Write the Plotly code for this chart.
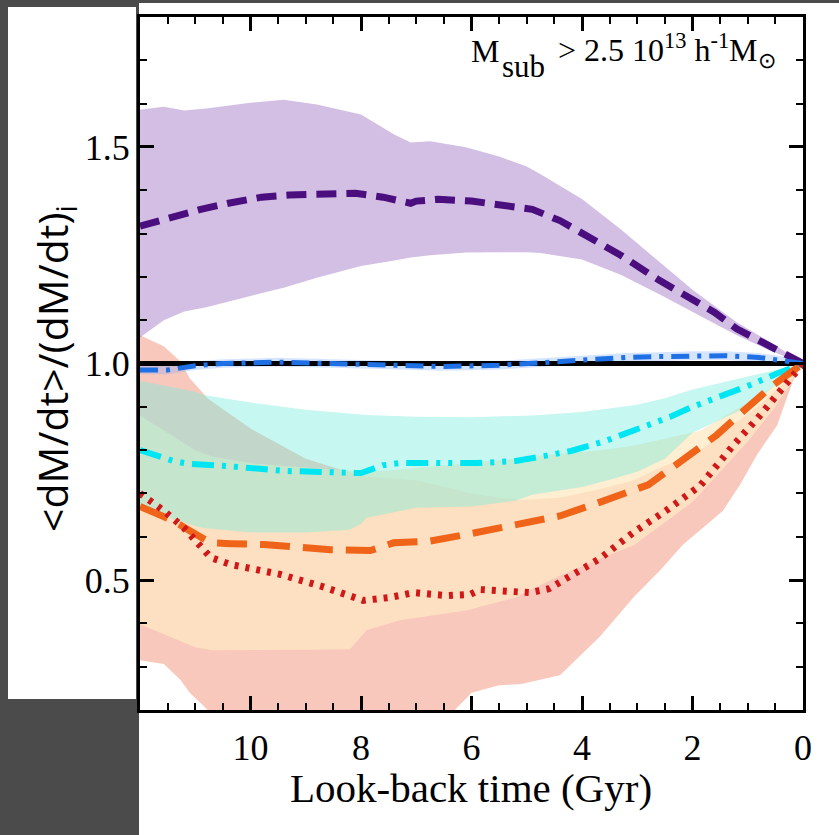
import plotly.graph_objects as go

# ---------------- data ----------------
x_ticks = [10, 8, 6, 4, 2, 0]
y_ticks = [0.5, 1.0, 1.5]
y_ticktext = ["0.5", "1.0", "1.5"]

ref_x = [12, 0]
ref_y = [1.0, 1.0]

purple_x = [12, 11.4, 10.9, 10.4, 9.8, 9.3, 8.7, 8.1, 7.6, 7.1, 7.0, 6.6, 6.0, 5.5, 4.9, 4.4, 4.0, 3.3, 2.6, 2.0, 1.6, 1.2, 0.6, 0]
purple_y = [1.317, 1.340, 1.356, 1.370, 1.384, 1.389, 1.393, 1.393, 1.384, 1.370, 1.375, 1.379, 1.375, 1.368, 1.356, 1.330, 1.300, 1.250, 1.192, 1.145, 1.118, 1.080, 1.040, 1.0]
purple_band_x = [12, 11.57, 11.2, 10.8, 10.0, 9.4, 8.8, 8.0, 7.4, 7.1, 6.75, 6.1, 5.5, 5.0, 4.75, 4.0, 3.3, 2.6, 2.0, 1.2, 0.6, 0]
purple_upper = [1.586, 1.593, 1.584, 1.589, 1.602, 1.609, 1.598, 1.575, 1.529, 1.510, 1.513, 1.499, 1.478, 1.455, 1.437, 1.380, 1.310, 1.235, 1.170, 1.095, 1.050, 1.0]
purple_lower = [1.060, 1.100, 1.120, 1.130, 1.156, 1.175, 1.198, 1.225, 1.238, 1.245, 1.250, 1.256, 1.257, 1.257, 1.255, 1.240, 1.205, 1.160, 1.120, 1.065, 1.030, 1.0]

blue_x = [12, 11.5, 11.0, 10.5, 9.5, 8.5, 7.5, 6.5, 5.5, 4.5, 3.9, 3.2, 2.6, 2.0, 1.4, 0.8, 0.3, 0]
blue_y = [0.985, 0.985, 0.995, 1.000, 1.003, 1.000, 0.997, 0.993, 0.996, 1.004, 1.009, 1.014, 1.016, 1.018, 1.018, 1.014, 1.007, 1.0]
blue_upper = [0.995, 0.995, 1.005, 1.010, 1.013, 1.010, 1.007, 1.003, 1.006, 1.014, 1.019, 1.024, 1.026, 1.028, 1.028, 1.024, 1.015, 1.0]
blue_lower = [0.975, 0.975, 0.985, 0.990, 0.993, 0.990, 0.987, 0.983, 0.986, 0.994, 0.999, 1.004, 1.006, 1.008, 1.008, 1.004, 0.999, 1.0]

cyan_x = [12, 11.4, 11.1, 10.4, 9.4, 8.7, 8.0, 7.6, 7.3, 5.9, 5.2, 4.7, 4.2, 3.6, 3.0, 2.4, 2.0, 1.56, 0.96, 0.47, 0]
cyan_y = [0.800, 0.775, 0.768, 0.763, 0.752, 0.749, 0.747, 0.765, 0.770, 0.770, 0.775, 0.786, 0.798, 0.820, 0.848, 0.877, 0.900, 0.920, 0.950, 0.977, 1.0]
cyan_band_x = [12, 11, 10.85, 10, 9, 8.2, 8, 7.9, 7, 6, 5.2, 4.9, 4, 3.4, 3, 2.5, 2, 1, 0]
cyan_upper = [0.960, 0.935, 0.927, 0.910, 0.893, 0.884, 0.882, 0.881, 0.877, 0.876, 0.879, 0.880, 0.888, 0.898, 0.905, 0.920, 0.940, 0.970, 1.0]
cyan_lower = [0.667, 0.625, 0.620, 0.610, 0.610, 0.616, 0.630, 0.644, 0.667, 0.670, 0.683, 0.697, 0.715, 0.735, 0.750, 0.780, 0.840, 0.900, 1.0]

orange_x = [12, 11.8, 11.4, 11.1, 10.72, 10.36, 9.76, 8.55, 7.83, 7.41, 6.75, 6.1, 5.3, 4.4, 3.67, 2.8, 2.17, 1.56, 1.08, 0.54, 0]
orange_y = [0.670, 0.660, 0.637, 0.614, 0.586, 0.584, 0.582, 0.570, 0.568, 0.586, 0.590, 0.605, 0.627, 0.648, 0.680, 0.720, 0.778, 0.835, 0.890, 0.950, 1.0]
orange_band_x = [12, 11, 10.7, 10, 9, 8.2, 7.9, 7.3, 6.1, 5.2, 4.57, 3.67, 3.07, 2, 1.86, 1, 0.5, 0]
orange_upper = [0.880, 0.800, 0.785, 0.770, 0.760, 0.752, 0.750, 0.755, 0.770, 0.780, 0.790, 0.800, 0.810, 0.840, 0.845, 0.910, 0.950, 1.0]
orange_lower = [0.398, 0.345, 0.338, 0.338, 0.339, 0.340, 0.384, 0.407, 0.430, 0.460, 0.500, 0.550, 0.580, 0.680, 0.700, 0.820, 0.900, 1.0]

red_x = [12, 11.57, 11.2, 10.72, 10.36, 9.46, 8.7, 7.96, 7.47, 7.05, 6.44, 6.02, 5.84, 5.53, 4.94, 4.6, 4.2, 3.67, 3.07, 2.46, 1.86, 1.27, 0.78, 0.29, 0]
red_y = [0.700, 0.660, 0.620, 0.552, 0.536, 0.513, 0.485, 0.453, 0.460, 0.471, 0.464, 0.467, 0.478, 0.476, 0.471, 0.480, 0.510, 0.550, 0.610, 0.662, 0.718, 0.810, 0.880, 0.958, 1.0]
red_band_x = [12, 11.57, 11.27, 11.1, 10.85, 10.78, 10, 9, 8, 7, 6.3, 6.0, 5.5, 5.1, 4.4, 3.67, 3.07, 2.59, 2.17, 1.74, 1.45, 1.14, 0.83, 0.47, 0.18, 0]
red_upper = [1.065, 1.040, 1.005, 0.966, 0.930, 0.920, 0.850, 0.780, 0.740, 0.730, 0.710, 0.700, 0.690, 0.685, 0.690, 0.710, 0.730, 0.760, 0.780, 0.810, 0.840, 0.870, 0.900, 0.940, 0.975, 1.0]
red_lower = [0.315, 0.306, 0.270, 0.240, 0.210, 0.200, 0.170, 0.150, 0.150, 0.170, 0.200, 0.240, 0.257, 0.260, 0.280, 0.370, 0.460, 0.522, 0.582, 0.628, 0.660, 0.720, 0.790, 0.857, 0.960, 1.0]

# ---------------- figure ----------------
W, H = 839, 835
ML, MR, MT, MB = 140, 36, 17, 125
PW, PH = W - ML - MR, H - MT - MB


def px(xp):
    return (xp - ML) / PW


def py(yp):
    return (H - MB - yp) / PH


fig = go.Figure()


def add_band(x, up, lo, color):
    fig.add_trace(go.Scatter(
        x=list(x) + list(x)[::-1], y=list(up) + list(lo)[::-1],
        mode="lines", fill="toself", fillcolor=color,
        line=dict(width=0), hoverinfo="skip", showlegend=False))


def add_line(x, y, color, width, dash):
    fig.add_trace(go.Scatter(
        x=x, y=y, mode="lines", line=dict(color=color, width=width, dash=dash),
        hoverinfo="skip", showlegend=False))


add_band(red_band_x, red_upper, red_lower, "rgba(240,110,80,0.38)")
add_band(orange_band_x, orange_upper, orange_lower, "rgba(253,232,195,0.75)")
add_band(cyan_band_x, cyan_upper, cyan_lower, "rgba(120,235,220,0.42)")
add_band(blue_x, blue_upper, blue_lower, "rgba(120,170,255,0.3)")
add_band(purple_band_x, purple_upper, purple_lower, "rgba(150,100,190,0.42)")

add_line(ref_x, ref_y, "black", 5, "solid")
add_line(purple_x, purple_y, "#4a0e7e", 7, "20px,10px")
add_line(blue_x, blue_y, "#1f6fe5", 5, "18px,8px,4px,8px")
add_line(cyan_x, cyan_y, "#00e5f2", 6, "22px,8px,4px,8px,4px,8px")
add_line(orange_x, orange_y, "#f0641a", 7, "30px,13px")
add_line(red_x, red_y, "#d01818", 7, "4px,7px")

axis_common = dict(
    showline=True, linewidth=3, linecolor="black", mirror="ticks",
    ticks="inside", ticklen=14, tickwidth=2.5, tickcolor="black",
    showgrid=False, zeroline=False,
    tickfont=dict(family="Liberation Serif", size=36, color="black"),
)

fig.update_xaxes(
    range=[12, 0], tickmode="array", tickvals=x_ticks,
    ticktext=[str(v) for v in x_ticks],
    minor=dict(tickmode="linear", tick0=0, dtick=0.5, ticks="inside",
               ticklen=7, tickwidth=2, tickcolor="black"),
    ticklabelstandoff=4, **axis_common)
fig.update_yaxes(
    range=[0.2, 1.8], tickmode="array", tickvals=y_ticks, ticktext=y_ticktext,
    minor=dict(tickmode="linear", tick0=0, dtick=0.1, ticks="inside",
               ticklen=7, tickwidth=2, tickcolor="black"),
    ticklabelstandoff=0, **axis_common)

shapes = [
    dict(type="rect", xref="paper", yref="paper", layer="below",
         x0=px(139), x1=px(839), y0=py(835), y1=py(3),
         fillcolor="white", line=dict(width=0)),
    dict(type="rect", xref="paper", yref="paper", layer="below",
         x0=px(8), x1=px(136), y0=py(699), y1=py(7),
         fillcolor="white", line=dict(width=0)),
]

serif = "Liberation Serif"
annotations = [
    dict(text="&lt;dM/dt&gt;/(dM/dt)<sub>i</sub>", xref="paper", yref="paper",
         x=px(54), y=py(368), xanchor="center", yanchor="middle", textangle=-90,
         showarrow=False, font=dict(family="Open Sans", size=41, color="black")),
    dict(text="Look-back time (Gyr)", xref="paper", yref="paper",
         x=px(471), y=py(788), xanchor="center", yanchor="middle",
         showarrow=False, font=dict(family=serif, size=41, color="black")),
    dict(text="M", xref="paper", yref="paper", x=px(469), y=py(51),
         xanchor="left", yanchor="middle", showarrow=False,
         font=dict(family=serif, size=32, color="black")),
    dict(text="sub", xref="paper", yref="paper", x=px(500), y=py(66),
         xanchor="left", yanchor="middle", showarrow=False,
         font=dict(family=serif, size=31, color="black")),
    dict(text="&gt; 2.5 10<sup>13</sup> h<sup>-1</sup>M<sub>\u2299</sub>",
         xref="paper", yref="paper", x=px(556), y=py(50), xanchor="left", yanchor="middle",
         showarrow=False, font=dict(family=serif, size=32, color="black")),
]

fig.update_layout(
    width=W, height=H, autosize=False,
    margin=dict(l=ML, r=MR, t=MT, b=MB, pad=0),
    paper_bgcolor="#4b4b4b", plot_bgcolor="white",
    shapes=shapes, annotations=annotations, showlegend=False,
)

fig.write_html("out.html", config={"displayModeBar": False},
               post_script="document.body.style.margin='0';document.body.style.background='#4b4b4b';")
